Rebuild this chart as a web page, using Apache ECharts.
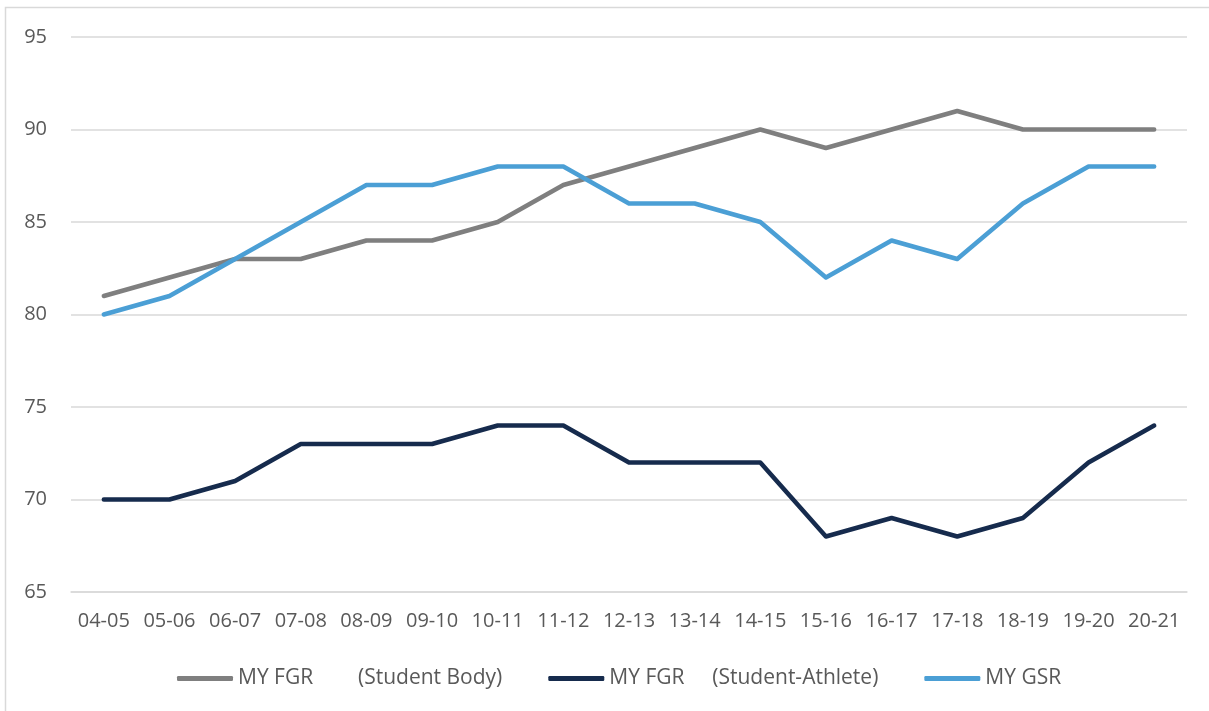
<!DOCTYPE html>
<html>
<head>
<meta charset="utf-8">
<script src="https://cdn.jsdelivr.net/npm/echarts@6/dist/echarts.min.js"></script>
<style>
html,body{margin:0;padding:0;background:#fff;}
#chart{width:1209px;height:711px;}
</style>
</head>
<body>
<div id="chart"></div>
<script>
const categories = ['04-05','05-06','06-07','07-08','08-09','09-10','10-11','11-12','12-13','13-14','14-15','15-16','16-17','17-18','18-19','19-20','20-21'];
const studentBody = [81,82,83,83,84,84,85,87,88,89,90,89,90,91,90,90,90];
const studentAthlete = [70,70,71,73,73,73,74,74,72,72,72,68,69,68,69,72,74];
const gsr = [80,81,83,85,87,87,88,88,86,86,85,82,84,83,86,88,88];
const seriesNames = ['MY FGR|(Student Body)','MY FGR |(Student-Athlete)','MY GSR'];
const yTicks = {min:65, max:95, interval:5};

const chart = echarts.init(document.getElementById('chart'));
const font = 'Open Sans';
const textColor = '#595959';
function mk(name, data, color){
  return {name, type:'line', data, symbol:'none', smooth:false,
    lineStyle:{color, width:4.5, cap:'round', join:'round'}, itemStyle:{color}};
}
chart.setOption({
  animation:false,
  backgroundColor:'#fff',
  graphic:[{type:'rect', shape:{x:5.5,y:7.5,width:1230,height:730}, style:{fill:'none', stroke:'#d9d9d9', lineWidth:1.5}, silent:true, z:-1}],
  grid:{left:71, right:22, top:37, bottom:119, containLabel:false},
  xAxis:{type:'category', data:categories, boundaryGap:true,
    axisLine:{show:true, lineStyle:{color:'#d9d9d9', width:1.5}},
    axisTick:{show:false},
    axisLabel:{color:textColor, fontFamily:font, fontSize:20, margin:19, interval:0}},
  yAxis:{type:'value', min:yTicks.min, max:yTicks.max, interval:yTicks.interval,
    axisLine:{show:false}, axisTick:{show:false},
    splitLine:{lineStyle:{color:'#d9d9d9', width:1.5}},
    axisLabel:{color:textColor, fontFamily:font, fontSize:20, margin:24}},
  legend:{bottom:17, left:172, itemWidth:56, itemHeight:5, itemGap:46, icon:'roundRect',
    textStyle:{color:textColor, fontFamily:font, fontSize:21,
      rich:{a1:{color:textColor, fontFamily:font, fontSize:21, width:120},
            a2:{color:textColor, fontFamily:font, fontSize:21, width:103},
            b:{color:textColor, fontFamily:font, fontSize:21}}},
    formatter:function(n){const p=n.split('|'); if(p.length<2) return n; const k = n.indexOf('Athlete')>=0 ? 'a2' : 'a1'; return '{'+k+'|'+p[0].trim()+'}{b|'+p[1]+'}';}},
  series:[mk(seriesNames[0], studentBody, '#7f7f7f'), mk(seriesNames[1], studentAthlete, '#162b4d'), mk(seriesNames[2], gsr, '#4b9fd5')]
});
</script>
</body>
</html>
